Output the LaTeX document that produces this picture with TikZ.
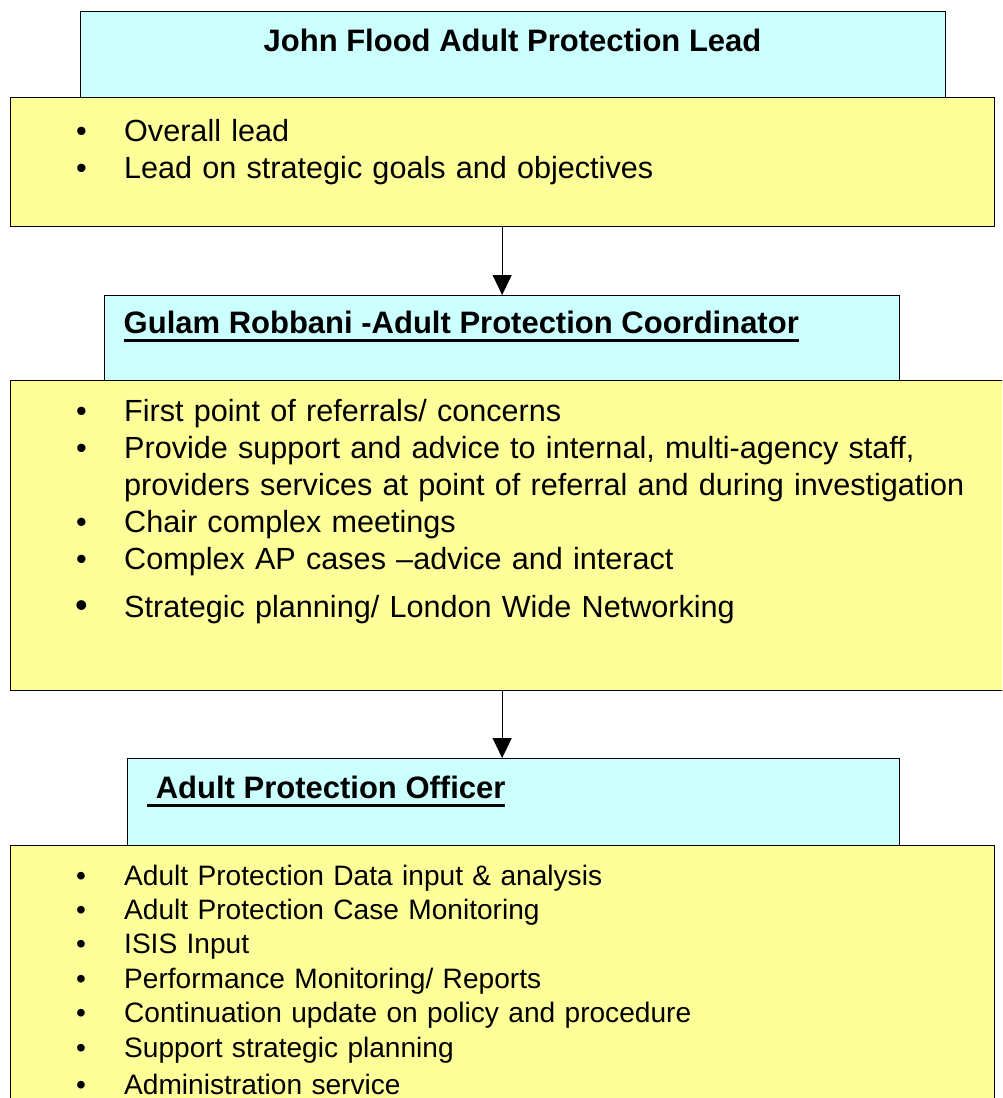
\documentclass[tikz,border=0pt]{standalone}
\usepackage{fontspec}
\setmainfont{Liberation Sans}
\usetikzlibrary{arrows.meta,positioning}

\definecolor{headcyan}{HTML}{CCFFFF}
\definecolor{dutyyellow}{HTML}{FFFF99}

% underlined heading with a heavy rule
\newsavebox\titlebox
\newcommand{\titleline}[1]{\sbox\titlebox{#1}\rlap{\usebox\titlebox}\rule[-8.5pt]{\wd\titlebox}{2.6pt}}
% one bullet line
\newcommand{\dutyitem}[1]{\makebox[48pt][l]{\textbullet}#1}

\begin{document}
\begin{tikzpicture}[
    x=1pt, y=-1pt,
    head/.style={rectangle, draw, line width=1.3pt, fill=headcyan, anchor=north west, inner sep=0pt},
    duties/.style={rectangle, draw, line width=1.3pt, fill=dutyyellow, anchor=north west, inner sep=0pt},
    title/.style={font=\fontsize{31}{37}\selectfont\bfseries, inner sep=0pt},
    list/.style={font=\fontsize{30.6}{37}\selectfont, text width=920pt, align=left, inner sep=0pt, anchor=base west},
    arrow/.style={line width=1.3pt, -{Triangle[length=20pt, width=19pt]}}
]
\useasboundingbox (0,0) rectangle (1002,1098);
\clip (0,0) rectangle (1002,1098);

% Lead
\node[head, minimum width=865pt, minimum height=86pt] (leadhead) at (80,11) {};
\node[duties, minimum width=984pt, minimum height=129pt] (leadbox) at (9.5,97) {};
\node[title, anchor=base] (leadtitle) at (512.5,51) {John Flood Adult Protection Lead};
\node[list] (leadlist) at (76,141.7) {%
  \dutyitem{Overall lead}\\
  \dutyitem{Lead on strategic goals and objectives}};

% Coordinator
\node[head, minimum width=795pt, minimum height=85pt] (coordhead) at (104,295) {};
\node[duties, minimum width=1010pt, minimum height=310pt] (coordbox) at (9.5,380) {};
\node[title, anchor=base west] (coordtitle) at (123.5,333) {\titleline{Gulam Robbani -Adult Protection Coordinator}};
\node[list] (coordlist) at (76,421.7) {%
  \dutyitem{First point of referrals/ concerns}\\
  \dutyitem{Provide support and advice to internal, multi-agency staff,}\\
  \hspace*{48pt}providers services at point of referral and during investigation\\
  \dutyitem{Chair complex meetings}\\
  \dutyitem{Complex AP cases –advice and interact}\\[11pt]
  \makebox[48pt][l]{\hspace*{-1pt}\fontsize{36}{37}\selectfont\textbullet}Strategic planning/ London Wide Networking};

% Officer
\node[head, minimum width=772pt, minimum height=87pt] (officerhead) at (127,758) {};
\node[duties, minimum width=984pt, minimum height=300pt] (officerbox) at (9.5,845) {};
\node[title, anchor=base west] (officertitle) at (147,798) {\titleline{\ Adult Protection Officer}};
\node[list, font=\fontsize{28.1}{34.4}\selectfont] (officerlist) at (76,885) {%
  \dutyitem{Adult Protection Data input \& analysis}\\
  \dutyitem{Adult Protection Case Monitoring}\\
  \dutyitem{ISIS Input}\\
  \dutyitem{Performance Monitoring/ Reports}\\
  \dutyitem{Continuation update on policy and procedure}\\
  \dutyitem{Support strategic planning}\\[3.5pt]
  \dutyitem{Administration service}};

% Arrows
\draw[arrow] (leadbox.south) -- (leadbox.south |- coordhead.north);
\draw[arrow] (coordbox.south -| leadbox.south) -- (officerhead.north -| leadbox.south);
\end{tikzpicture}
\end{document}
